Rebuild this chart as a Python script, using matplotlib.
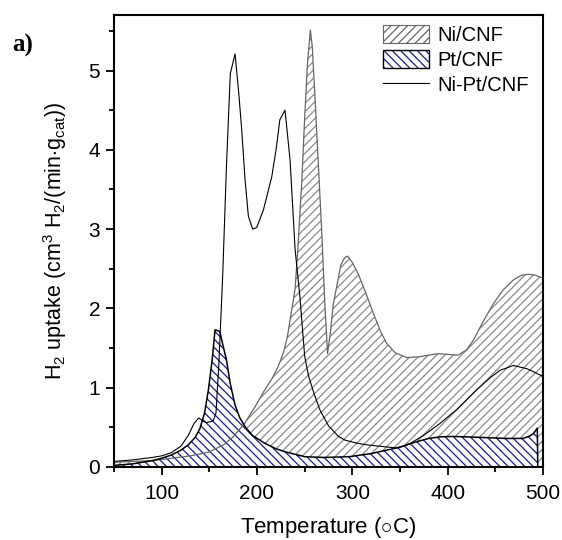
import matplotlib
matplotlib.use('Agg')
import matplotlib.pyplot as plt
from matplotlib.patches import Patch
from matplotlib.lines import Line2D
from matplotlib.ticker import MultipleLocator

plt.rcParams['font.family'] = ['Liberation Sans', 'DejaVu Sans']
plt.rcParams['mathtext.fontset'] = 'custom'
plt.rcParams['mathtext.rm'] = 'Liberation Sans'
plt.rcParams['mathtext.it'] = 'Liberation Sans:italic'
plt.rcParams['hatch.linewidth'] = 0.9

# Ni/CNF
t_ni = [50, 70, 90, 110, 130, 150, 165, 175, 187, 198, 208, 216, 222, 228, 232,
        236, 240, 243, 247, 250, 253, 256, 258, 261, 264, 268, 271, 274, 277, 280,
        284, 288, 292, 295, 300, 306, 314, 322, 330, 336, 345, 357, 370, 380, 390,
        400, 411, 420, 427, 437, 448, 458, 469, 478, 485, 492, 500]
y_ni = [0.06, 0.07, 0.08, 0.11, 0.14, 0.19, 0.28, 0.38, 0.55, 0.76, 0.97, 1.12, 1.26, 1.45, 1.65,
        1.95, 2.25, 2.78, 3.6, 4.4, 5.1, 5.51, 5.3, 4.63, 3.9, 2.95, 2.1, 1.43, 1.7, 2.05,
        2.3, 2.55, 2.64, 2.66, 2.58, 2.44, 2.2, 1.94, 1.7, 1.56, 1.44, 1.38, 1.39, 1.41, 1.43,
        1.42, 1.41, 1.48, 1.6, 1.83, 2.06, 2.23, 2.36, 2.42, 2.43, 2.42, 2.38]

# Pt/CNF
t_pt = [50, 70, 90, 100, 110, 120, 128, 135, 140, 145, 149, 153, 156, 161, 164,
        168, 172, 177, 182, 188, 195, 208, 220, 230, 250, 270, 297, 320, 335, 350,
        365, 380, 392, 405, 420, 441, 460, 479, 486, 490, 494, 494.5]
y_pt = [0.02, 0.04, 0.08, 0.11, 0.15, 0.21, 0.28, 0.37, 0.48, 0.68, 0.97, 1.35, 1.73, 1.71, 1.55,
        1.35, 1.05, 0.78, 0.62, 0.5, 0.4, 0.3, 0.23, 0.19, 0.13, 0.12, 0.13, 0.17, 0.21, 0.25,
        0.31, 0.36, 0.38, 0.385, 0.38, 0.37, 0.36, 0.36, 0.39, 0.42, 0.49, 0.0]

# Ni-Pt/CNF
t_nipt = [50, 70, 90, 100, 110, 120, 128, 134, 139, 143, 147, 154, 157, 160, 164,
          168, 172, 177, 181, 184, 187.5, 191, 195.5, 199.7, 206.7, 215.5, 220, 224, 229.4, 234.7,
          240, 245, 250, 254, 260, 266, 275, 285, 292, 305, 315, 330, 346, 355, 361,
          375, 392, 410, 430, 445, 455, 469, 483, 492, 500]
y_nipt = [0.07, 0.09, 0.12, 0.14, 0.18, 0.26, 0.40, 0.55, 0.62, 0.58, 0.56, 0.58, 0.68, 1.3, 2.4,
          3.8, 4.96, 5.21, 4.7, 4.25, 3.62, 3.16, 3.0, 3.02, 3.24, 3.66, 4.0, 4.38, 4.5, 3.87,
          2.74, 2.15, 1.4, 1.15, 0.92, 0.72, 0.52, 0.39, 0.34, 0.30, 0.28, 0.26, 0.24, 0.27, 0.30,
          0.40, 0.55, 0.73, 0.97, 1.13, 1.22, 1.28, 1.24, 1.19, 1.14]

fig = plt.figure(figsize=(5.62, 5.40), dpi=100)
ax = fig.add_axes([0.2028, 0.1352, 0.7634, 0.837])

ni_gray = '#666666'
pt_blue = '#1a1a8c'

ax.fill_between(t_ni, 0, y_ni, facecolor='white', edgecolor='#8a8a8a', hatch='////', linewidth=0)
ax.fill_between(t_pt, 0, y_pt, facecolor='white', edgecolor=pt_blue, hatch='\\\\\\\\', linewidth=0)
ax.plot(t_ni, y_ni, color=ni_gray, lw=0.9)
ax.plot(t_pt, y_pt, color='black', lw=1.1)
ax.plot(t_nipt, y_nipt, color='black', lw=0.8)

ax.set_xlim(50, 500)
ax.set_ylim(0, 5.7)
ax.xaxis.set_major_locator(MultipleLocator(100))
ax.xaxis.set_minor_locator(MultipleLocator(50))
ax.yaxis.set_major_locator(MultipleLocator(1))
ax.yaxis.set_minor_locator(MultipleLocator(0.5))
ax.tick_params(which='both', direction='out', width=1.3, labelsize=15, top=False, right=False)
ax.tick_params(which='major', length=6)
ax.tick_params(which='minor', length=3.5)
ax.tick_params(axis='x', pad=6)
ax.tick_params(axis='y', pad=4)
for s in ax.spines.values():
    s.set_linewidth(1.5)

ax.set_xlabel(r'Temperature ($\circ$C)', fontsize=16, labelpad=9)
ax.set_ylabel(r'H$_2$ uptake (cm$^3$ H$_2$/(min$\cdot$g$_{\mathrm{cat}}$))', fontsize=15.5,
              labelpad=14)

handles = [
    Patch(facecolor='white', edgecolor=ni_gray, hatch='////', linewidth=0.8),
    (Patch(facecolor='white', edgecolor=pt_blue, hatch='\\\\\\\\', linewidth=0),
     Patch(facecolor='none', edgecolor='black', linewidth=1.0)),
    Line2D([], [], color='black', lw=0.8),
]
ax.legend(handles, ['Ni/CNF', 'Pt/CNF', 'Ni-Pt/CNF'], loc='upper right', frameon=False,
          fontsize=14.5, handlelength=2.3, handleheight=1.0, handletextpad=0.4,
          labelspacing=0.25, borderaxespad=0.3, borderpad=0.2, bbox_to_anchor=(0.99, 1.0))

fig.text(0.022, 0.905, 'a)', fontsize=18, fontweight='bold', family='Liberation Serif')

fig.savefig('out.png', dpi=100)
